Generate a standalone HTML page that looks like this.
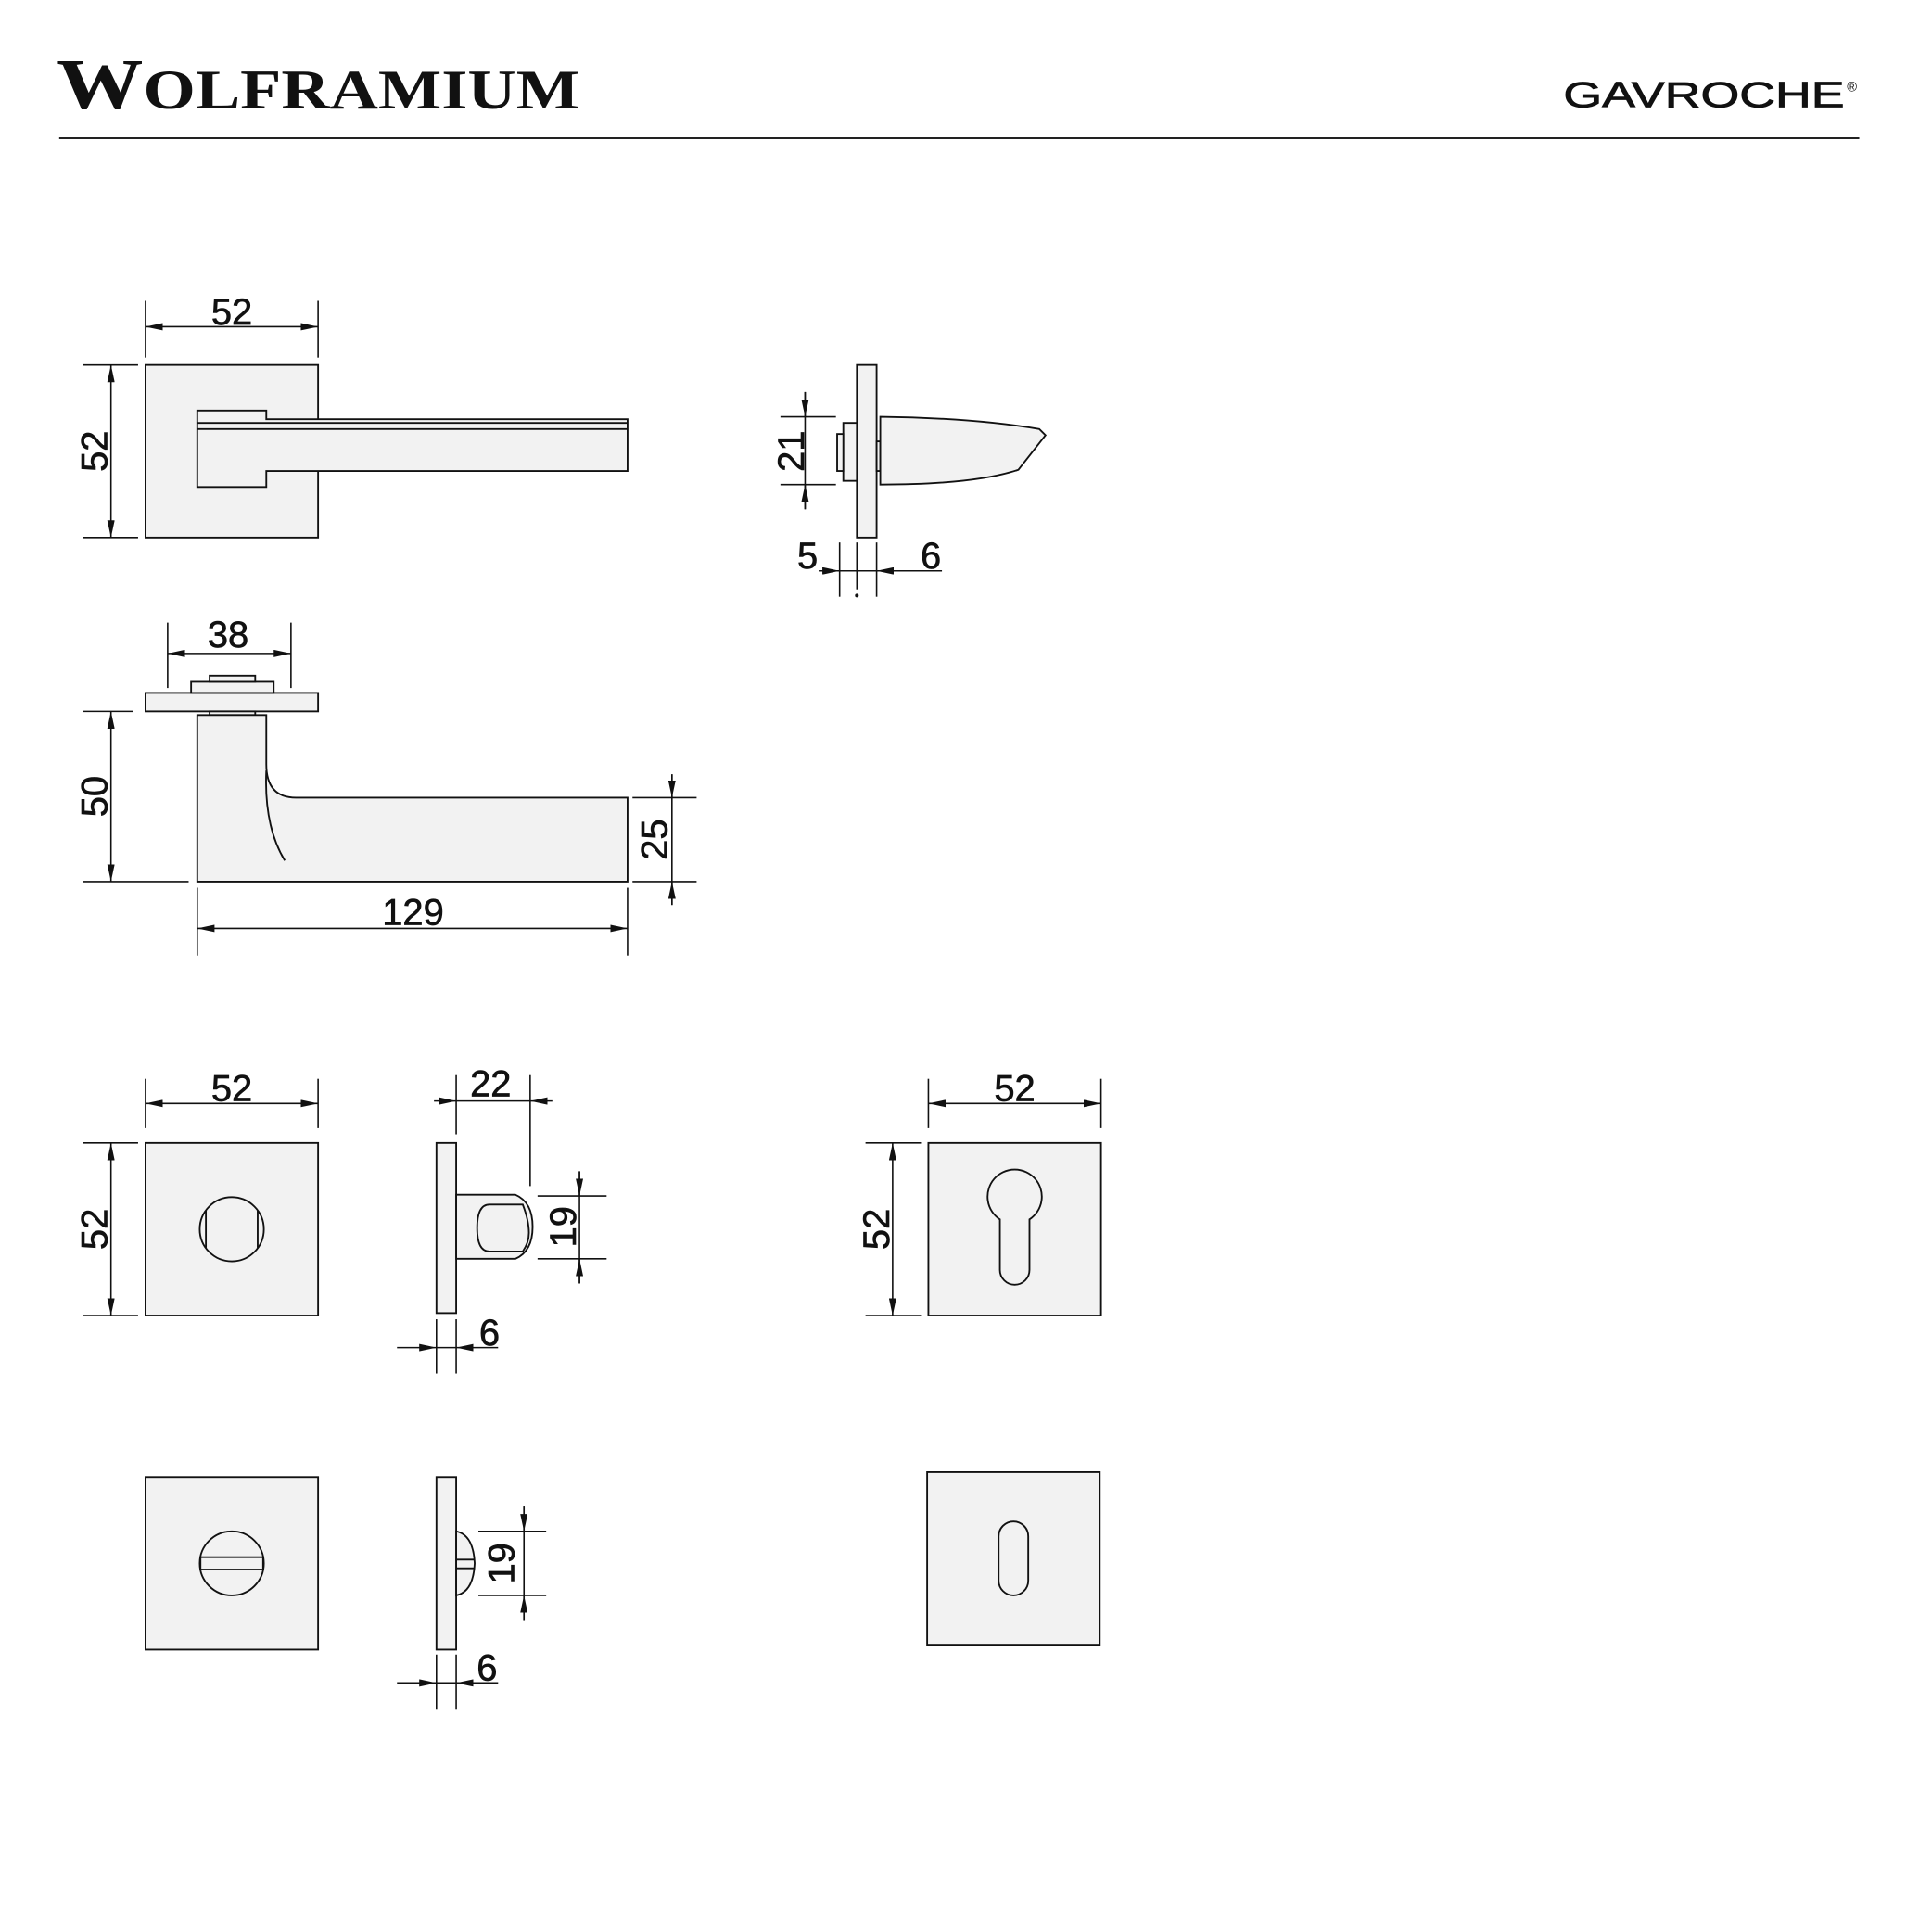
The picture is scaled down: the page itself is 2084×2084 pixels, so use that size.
<!DOCTYPE html>
<html><head><meta charset="utf-8"><style>
html,body{margin:0;padding:0;background:#fff}
svg{display:block}
</style></head><body>
<svg width="2084" height="2084" viewBox="0 0 1567 1567" xmlns="http://www.w3.org/2000/svg">
<defs>
<marker id="a" viewBox="0 0 14 6" refX="14" refY="3" markerWidth="14" markerHeight="6" markerUnits="userSpaceOnUse" orient="auto-start-reverse">
<path d="M0,0 L14,3 L0,6 Z" fill="#111"/></marker>
</defs>
<!-- header -->
<text x="46" y="88" style="font-family:'Liberation Serif',serif;font-weight:bold;fill:#111" font-size="58" textLength="424" lengthAdjust="spacingAndGlyphs">W<tspan font-size="45">OLFRAMIUM</tspan></text>
<text x="1268" y="87" style="font-family:'Liberation Sans',sans-serif;fill:#111" font-size="29" textLength="228" lengthAdjust="spacingAndGlyphs" stroke="#111" stroke-width="0.6">GAVROCHE</text>
<text x="1498" y="74" style="font-family:'Liberation Sans',sans-serif;fill:#111" font-size="11">®</text>
<line x1="48" y1="112" x2="1508" y2="112" stroke="#222" stroke-width="1.5"/>

<g stroke="#111" stroke-width="1.4" fill="#f2f2f2">
<!-- view 1 -->
<rect x="118" y="296" width="140" height="140"/>
<path d="M160,333 L216,333 L216,340 L509,340 L509,382 L216,382 L216,395 L160,395 Z"/>
<line x1="160" y1="343" x2="509" y2="343"/>
<line x1="160" y1="348" x2="509" y2="348"/>
<!-- view 2 -->
<rect x="695" y="296" width="16" height="140"/>
<rect x="684" y="343" width="11" height="47"/>
<rect x="679" y="352" width="5" height="30"/>
<rect x="711" y="358" width="3" height="24"/>
<path d="M714,338 Q790,339 843,348 L848,353 L826,381 Q790,393 714,393 Z"/>
<!-- view 3 -->
<rect x="118" y="562" width="140" height="15"/>
<rect x="155" y="553" width="67" height="9"/>
<rect x="170" y="548" width="37" height="5"/>
<rect x="170" y="577" width="37" height="3"/>
<path d="M160,580 L216,580 L216,620 Q216,647 240,647 L509,647 L509,715 L160,715 Z"/>
<path d="M216,625 Q214,670 231,698" fill="none"/>
<!-- row 3 -->
<rect x="118" y="927" width="140" height="140"/>
<circle cx="188" cy="997" r="26"/>
<line x1="167" y1="982" x2="167" y2="1012"/>
<line x1="209" y1="982" x2="209" y2="1012"/>
<rect x="354" y="927" width="16" height="138"/>
<path d="M370,969 L418,969 Q432,975 432,995 Q432,1015 418,1021 L370,1021 Z"/>
<path d="M397,977 L424,977 Q429,990 429,1000 Q429,1008 424,1015 L397,1015 Q387,1015 387,996 Q387,977 397,977 Z"/>
<rect x="753" y="927" width="140" height="140"/>
<path d="M811,989 A22,22 0 1 1 835,989 L835,1030 A12,12 0 0 1 811,1030 Z"/>
<!-- row 4 -->
<rect x="118" y="1198" width="140" height="140"/>
<circle cx="188" cy="1268" r="26"/>
<path d="M162.6,1263 L213.4,1263 L213.4,1273 L162.6,1273 Z"/>
<rect x="354" y="1198" width="16" height="140"/>
<path d="M370,1242 Q384,1245 385,1268 Q384,1291 370,1294 Z"/>
<line x1="370" y1="1265" x2="385" y2="1265"/>
<line x1="370" y1="1272" x2="385" y2="1272"/>
<rect x="752" y="1194" width="140" height="140"/>
<rect x="810" y="1234" width="24" height="60" rx="12"/>
</g>

<!-- dimensions -->
<g stroke="#111" stroke-width="1.2" fill="none">
<line x1="118" y1="244" x2="118" y2="290"/><line x1="258" y1="244" x2="258" y2="290"/>
<line x1="118" y1="265" x2="258" y2="265" marker-start="url(#a)" marker-end="url(#a)"/>
<line x1="67" y1="296" x2="112" y2="296"/><line x1="67" y1="436" x2="112" y2="436"/>
<line x1="90" y1="296" x2="90" y2="436" marker-start="url(#a)" marker-end="url(#a)"/>
<line x1="633" y1="338" x2="678" y2="338"/><line x1="633" y1="393" x2="678" y2="393"/>
<line x1="653" y1="318" x2="653" y2="413"/>
<line x1="653" y1="318" x2="653" y2="338" marker-end="url(#a)"/>
<line x1="653" y1="413" x2="653" y2="393" marker-end="url(#a)"/>
<line x1="681" y1="440" x2="681" y2="484"/><line x1="695" y1="440" x2="695" y2="478"/><line x1="711" y1="440" x2="711" y2="484"/>
<line x1="664" y1="463" x2="681" y2="463" marker-end="url(#a)"/>
<line x1="681" y1="463" x2="711" y2="463"/>
<line x1="764" y1="463" x2="711" y2="463" marker-end="url(#a)"/>
<line x1="136" y1="505" x2="136" y2="558"/><line x1="236" y1="505" x2="236" y2="558"/>
<line x1="136" y1="530" x2="236" y2="530" marker-start="url(#a)" marker-end="url(#a)"/>
<line x1="67" y1="577" x2="108" y2="577"/><line x1="67" y1="715" x2="153" y2="715"/>
<line x1="90" y1="577" x2="90" y2="715" marker-start="url(#a)" marker-end="url(#a)"/>
<line x1="513" y1="647" x2="565" y2="647"/><line x1="513" y1="715" x2="565" y2="715"/>
<line x1="545" y1="628" x2="545" y2="734"/>
<line x1="545" y1="628" x2="545" y2="647" marker-end="url(#a)"/>
<line x1="545" y1="734" x2="545" y2="715" marker-end="url(#a)"/>
<line x1="160" y1="720" x2="160" y2="775"/><line x1="509" y1="720" x2="509" y2="775"/>
<line x1="160" y1="753" x2="509" y2="753" marker-start="url(#a)" marker-end="url(#a)"/>
<line x1="118" y1="875" x2="118" y2="915"/><line x1="258" y1="875" x2="258" y2="915"/>
<line x1="118" y1="895" x2="258" y2="895" marker-start="url(#a)" marker-end="url(#a)"/>
<line x1="67" y1="927" x2="112" y2="927"/><line x1="67" y1="1067" x2="112" y2="1067"/>
<line x1="90" y1="927" x2="90" y2="1067" marker-start="url(#a)" marker-end="url(#a)"/>
<line x1="370" y1="872" x2="370" y2="920"/><line x1="430" y1="872" x2="430" y2="962"/>
<line x1="352" y1="893" x2="370" y2="893" marker-end="url(#a)"/>
<line x1="370" y1="893" x2="430" y2="893"/>
<line x1="448" y1="893" x2="430" y2="893" marker-end="url(#a)"/>
<line x1="436" y1="970" x2="492" y2="970"/><line x1="436" y1="1021" x2="492" y2="1021"/>
<line x1="470" y1="950" x2="470" y2="1041"/>
<line x1="470" y1="950" x2="470" y2="970" marker-end="url(#a)"/>
<line x1="470" y1="1041" x2="470" y2="1021" marker-end="url(#a)"/>
<line x1="354" y1="1070" x2="354" y2="1114"/><line x1="370" y1="1070" x2="370" y2="1114"/>
<line x1="322" y1="1093" x2="354" y2="1093" marker-end="url(#a)"/>
<line x1="354" y1="1093" x2="370" y2="1093"/>
<line x1="404" y1="1093" x2="370" y2="1093" marker-end="url(#a)"/>
<line x1="753" y1="875" x2="753" y2="915"/><line x1="893" y1="875" x2="893" y2="915"/>
<line x1="753" y1="895" x2="893" y2="895" marker-start="url(#a)" marker-end="url(#a)"/>
<line x1="702" y1="927" x2="747" y2="927"/><line x1="702" y1="1067" x2="747" y2="1067"/>
<line x1="724" y1="927" x2="724" y2="1067" marker-start="url(#a)" marker-end="url(#a)"/>
<line x1="388" y1="1242" x2="443" y2="1242"/><line x1="388" y1="1294" x2="443" y2="1294"/>
<line x1="425" y1="1222" x2="425" y2="1314"/>
<line x1="425" y1="1222" x2="425" y2="1242" marker-end="url(#a)"/>
<line x1="425" y1="1314" x2="425" y2="1294" marker-end="url(#a)"/>
<line x1="354" y1="1342" x2="354" y2="1386"/><line x1="370" y1="1342" x2="370" y2="1386"/>
<line x1="322" y1="1365" x2="354" y2="1365" marker-end="url(#a)"/>
<line x1="354" y1="1365" x2="370" y2="1365"/>
<line x1="404" y1="1365" x2="370" y2="1365" marker-end="url(#a)"/>
</g>
<circle cx="695" cy="483" r="1.5" fill="#111"/>

<g font-size="30" text-anchor="middle" style="font-family:'Liberation Sans',sans-serif;fill:#111" stroke="#111" stroke-width="0.5">
<text x="188" y="263">52</text>
<text transform="translate(87,366) rotate(-90)">52</text>
<text transform="translate(652,366) rotate(-90)">21</text>
<text x="655" y="461">5</text>
<text x="755" y="461">6</text>
<text x="185" y="525">38</text>
<text transform="translate(87,646) rotate(-90)">50</text>
<text transform="translate(541,681) rotate(-90)">25</text>
<text x="335" y="750">129</text>
<text x="188" y="893">52</text>
<text transform="translate(87,997) rotate(-90)">52</text>
<text x="398" y="889">22</text>
<text transform="translate(467,995) rotate(-90)">19</text>
<text x="397" y="1091">6</text>
<text x="823" y="893">52</text>
<text transform="translate(721,997) rotate(-90)">52</text>
<text transform="translate(417,1268) rotate(-90)">19</text>
<text x="395" y="1363">6</text>
</g>
</svg>
</body></html>
